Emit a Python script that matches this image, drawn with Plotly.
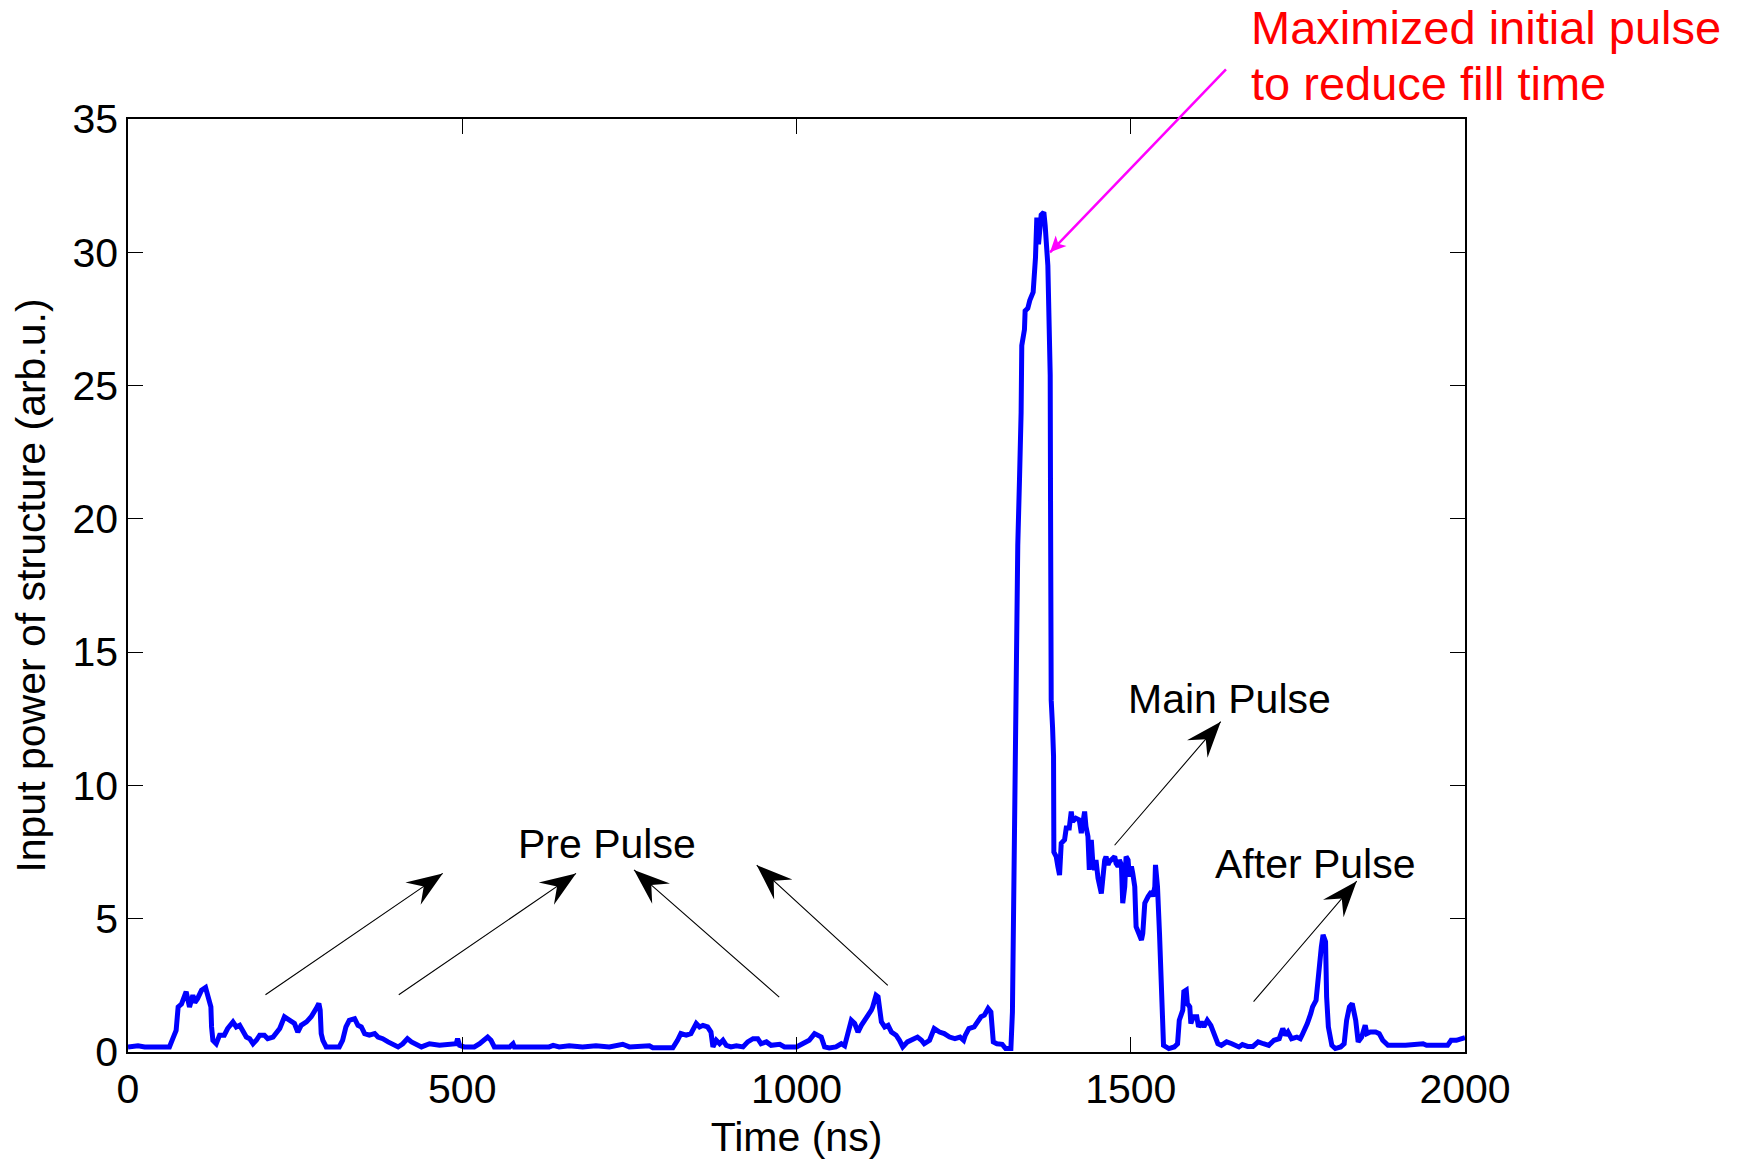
import plotly.graph_objects as go

# ---------------- data ----------------
time_ns = [
    0, 15, 25, 62, 67, 72, 75, 80, 87, 92, 97, 100, 104, 110, 116, 119, 124, 125, 127, 132,
    137, 144, 149, 157, 162, 167, 172, 177, 182, 187, 192, 197, 204, 209, 217, 222, 227, 234,
    242, 249, 254, 259, 267, 274, 281.5, 285.5, 287.5, 289, 291.5, 296.5, 316, 321, 326, 331,
    339, 344, 349, 354, 361, 369, 374, 381, 389, 396, 404, 411, 418, 424, 431, 439, 451, 466,
    491, 493, 496, 503, 518, 526, 538, 543, 548, 571, 576, 578, 630,
    636, 645, 660, 680, 700, 720, 740, 750, 780, 785, 815, 822, 827, 835, 842, 850, 855, 860,
    867, 872, 875, 880, 885, 890, 895, 902, 910, 920, 927, 935, 942, 947, 955, 962, 975, 982,
    1000, 1009, 1019, 1027, 1032, 1037, 1042, 1049, 1059, 1067, 1072, 1077, 1082, 1087, 1092,
    1097, 1104, 1112, 1114, 1119, 1122, 1124, 1127, 1132, 1137, 1142, 1149, 1154, 1159, 1166,
    1174, 1181, 1187, 1191, 1199, 1206, 1214, 1221, 1229, 1237, 1244.6, 1250, 1252.5, 1257.8,
    1265.7, 1270.8, 1276, 1281, 1286.6, 1290.8, 1292.9, 1294.4, 1299.7, 1307.6, 1312.8, 1320.7,
    1323, 1325, 1327, 1329, 1331, 1333.6, 1334, 1336, 1337, 1341, 1342, 1346, 1349, 1354,
    1357.5, 1359.5, 1362, 1366, 1370, 1372, 1376, 1377.5, 1379.5, 1380, 1381, 1383, 1384.5,
    1385, 1388.5, 1391, 1393.5, 1396, 1401, 1403.5, 1408, 1411, 1413, 1418, 1423, 1426, 1428,
    1431, 1433, 1436, 1438, 1441, 1443, 1446, 1448, 1451, 1456, 1458, 1461, 1463, 1466, 1468,
    1473, 1476, 1478, 1481, 1483, 1486, 1488, 1491, 1493, 1496, 1498, 1501, 1503, 1506, 1508,
    1513, 1516, 1518, 1521, 1526, 1531, 1533, 1536, 1537, 1540, 1543, 1545.5, 1547, 1549, 1557,
    1565, 1570, 1572.6, 1577.8, 1579.4, 1583, 1584.7, 1588.3, 1589.9, 1593.6, 1598.8, 1601.4,
    1605.6, 1609.3, 1614.5, 1619.8, 1625, 1630.3, 1635.5, 1643.4, 1651.3, 1656.5, 1661.8, 1667,
    1674.9, 1682.8, 1690.6, 1698.5, 1706.4, 1714.3, 1722.1, 1727.4, 1731.6, 1735.2, 1740.5,
    1748.4, 1753.6, 1756.2, 1761.5, 1764.1, 1769.3, 1772, 1777.2, 1779.8, 1782.5, 1785.1,
    1787.7, 1791.4, 1793, 1795.6, 1800.8, 1806, 1814, 1819.2, 1822.9, 1827.1, 1831.3, 1833.3,
    1836.5, 1840.2, 1845.4, 1850.7, 1853.3, 1858.5, 1866.4, 1871.7, 1876.9, 1884.8, 1911,
    1937.2, 1942.5, 1974, 1979.2, 1987.1, 1997.6, 2000,
]
power = [
    0.19, 0.23, 0.19, 0.19, 0.5, 0.81, 1.69, 1.8, 2.26, 1.69, 2.13, 1.85, 2.0, 2.32, 2.42, 2.19, 1.69, 0.94, 0.44, 0.31,
    0.63, 0.63, 0.88, 1.13, 0.94, 1.0, 0.75, 0.56, 0.5, 0.31, 0.44, 0.63, 0.63, 0.5, 0.56, 0.75, 0.88, 1.32,
    1.17, 1.07, 0.75, 1.0, 1.13, 1.32, 1.63, 1.82, 1.57, 0.69, 0.44, 0.19, 0.19, 0.44, 0.94, 1.19,
    1.25, 1.0, 0.94, 0.69, 0.63, 0.69, 0.56, 0.5, 0.38, 0.31, 0.19, 0.31, 0.5, 0.38, 0.31, 0.19, 0.31, 0.25,
    0.31, 0.5, 0.25, 0.19, 0.19, 0.31, 0.56, 0.44, 0.19, 0.19, 0.31, 0.19, 0.19,
    0.25, 0.19, 0.23, 0.19, 0.23, 0.19, 0.29, 0.19, 0.23, 0.16, 0.16, 0.44, 0.69, 0.63, 0.69, 1.07, 0.94, 1.0,
    0.94, 0.75, 0.19, 0.44, 0.31, 0.44, 0.25, 0.19, 0.23, 0.19, 0.38, 0.5, 0.5, 0.31, 0.38, 0.25, 0.29, 0.19,
    0.19, 0.31, 0.44, 0.69, 0.63, 0.56, 0.19, 0.15, 0.19, 0.31, 0.23, 0.81, 1.19, 1.07, 0.75,
    1.0, 1.25, 1.57, 1.69, 2.13, 2.07, 1.69, 1.13, 0.94, 1.0, 0.75, 0.63, 0.44, 0.19, 0.38,
    0.5, 0.56, 0.44, 0.31, 0.44, 0.88, 0.75, 0.69, 0.56, 0.5, 0.56, 0.44, 0.63, 0.88,
    0.94, 1.13, 1.32, 1.38, 1.63, 1.5, 1.07, 0.38, 0.31, 0.29, 0.13, 0.13,
    1.5, 6.0, 12.0, 15.5, 19.0, 21.5, 22.9, 24.0, 26.5, 27.1, 27.8, 27.9, 28.2, 28.5,
    29.8, 31.3, 30.3, 31.4, 31.5, 31.0, 29.5, 27.4, 25.4, 20.7, 13.2, 12.2, 11.1,
    7.5, 7.33, 6.96, 6.64, 7.83, 7.96, 8.4, 8.4, 9.02, 8.65, 8.77, 8.71, 8.21, 8.58,
    9.02, 8.46, 8.08, 6.83, 7.96, 7.2, 6.83, 7.2, 6.52, 5.95, 6.58, 7.2, 7.33, 7.02, 7.14,
    7.27, 7.33, 7.08, 6.96, 7.2, 7.02, 5.58, 6.2, 7.33, 7.2, 6.58, 6.96, 6.7, 6.2, 4.7,
    4.45, 4.2, 4.45, 5.58, 5.83, 6.02, 5.83, 6.2, 7.02, 6.2, 4.45, 1.94, 0.56, 0.25, 0.13,
    0.19, 0.31, 1.19, 1.57, 2.26, 2.32, 1.82, 1.69, 1.07, 1.32, 1.32, 0.94,
    1.13, 0.94, 1.19, 1.0, 0.63, 0.31, 0.25, 0.38, 0.31, 0.25, 0.19, 0.28,
    0.21, 0.21, 0.38, 0.31, 0.25, 0.44, 0.5, 0.88, 0.63, 0.75, 0.5,
    0.56, 0.5, 0.63, 0.88, 1.07, 1.44, 1.69, 1.94, 2.69, 3.07, 3.95,
    4.39, 4.14, 2.07, 0.94, 0.25, 0.13, 0.19, 0.31, 1.19, 1.69, 1.82, 1.57,
    1.19, 0.38, 0.56, 1.0, 0.69, 0.75, 0.75, 0.69, 0.44, 0.25, 0.25,
    0.31, 0.25, 0.25, 0.44, 0.44, 0.54, 0.54,
]

x_ticks = [0, 500, 1000, 1500, 2000]
y_ticks = [0, 5, 10, 15, 20, 25, 30, 35]

# annotation texts and arrows: (label, text position) and (tail, tip) in data units
label_texts = ["Pre Pulse", "Main Pulse", "After Pulse"]
label_pos = [(716, 7.82), (1648, 13.24), (1777, 7.05)]
black_arrows = [  # (tail_t, tail_y, tip_t, tip_y)
    (203.4, 2.11, 470.8, 6.70),
    (402.8, 2.11, 670.2, 6.70),
    (976.4, 2.01, 756.9, 6.83),
    (1138.8, 2.45, 940.5, 7.01),
    (1473.9, 7.70, 1634.6, 12.39),
    (1681.8, 1.83, 1838.0, 6.41),
]
magenta_arrow = (1644.6, 36.92, 1379.2, 30.0)
red_lines = ["Maximized initial pulse", "to reduce fill time"]

# ---------------- layout geometry ----------------
W, H = 1742, 1165
ML, MR, MT, MB = 128, 277, 119, 113
PW, PH = W - ML - MR, H - MT - MB
X_RANGE = [0, 2000]
Y_RANGE = [0, 35]
SX = PW / (X_RANGE[1] - X_RANGE[0])
SY = PH / (Y_RANGE[1] - Y_RANGE[0])

FONT = "Arial, 'Liberation Sans', sans-serif"


def head_path(tail_t, tail_y, tip_t, tip_y, L, Wd, notch):
    # work in pixel space then back to data space
    tx, ty = tip_t * SX, -tip_y * SY
    bx, by = tail_t * SX, -tail_y * SY
    dx, dy = tx - bx, ty - by
    n = (dx * dx + dy * dy) ** 0.5
    ux, uy = dx / n, dy / n
    nx, ny = -uy, ux
    pts = [
        (tx, ty),
        (tx - L * ux + Wd / 2 * nx, ty - L * uy + Wd / 2 * ny),
        (tx - notch * ux, ty - notch * uy),
        (tx - L * ux - Wd / 2 * nx, ty - L * uy - Wd / 2 * ny),
    ]
    d = ["M" if i == 0 else "L" for i in range(len(pts))]
    s = " ".join(f"{c}{px / SX:.3f},{-py / SY:.4f}" for c, (px, py) in zip(d, pts))
    return s + " Z"


fig = go.Figure()
fig.add_trace(go.Scatter(
    x=time_ns, y=power, mode="lines",
    line=dict(color="#0000FF", width=5),
    hoverinfo="skip", showlegend=False,
))

annotations = []
shapes = []
for (t0, y0, t1, y1) in black_arrows:
    annotations.append(dict(
        x=t1, y=y1, ax=t0, ay=y0, xref="x", yref="y", axref="x", ayref="y",
        text="", showarrow=True, arrowhead=0, arrowwidth=1.1, arrowcolor="black",
    ))
    shapes.append(dict(type="path", xref="x", yref="y",
                       path=head_path(t0, y0, t1, y1, 36, 27, 23),
                       fillcolor="black", line=dict(width=0), layer="above"))

t0, y0, t1, y1 = magenta_arrow
annotations.append(dict(
    x=t1, y=y1, ax=t0, ay=y0, xref="x", yref="y", axref="x", ayref="y",
    text="", showarrow=True, arrowhead=0, arrowwidth=2.5, arrowcolor="#FF00FF",
))
shapes.append(dict(type="path", xref="x", yref="y",
                   path=head_path(t0, y0, t1, y1, 16, 15, 12),
                   fillcolor="#FF00FF", line=dict(width=0), layer="above"))

for txt, (tx, ty) in zip(label_texts, label_pos):
    annotations.append(dict(
        x=tx, y=ty, xref="x", yref="y", text=txt, showarrow=False,
        xanchor="center", yanchor="middle",
        font=dict(family=FONT, size=41, color="black"),
    ))

red_y = [1.0986, 1.0378]
for txt, yy in zip(red_lines, red_y):
    annotations.append(dict(
        x=(1249 - ML) / PW, y=yy, xref="paper", yref="paper", text=txt,
        showarrow=False, xanchor="left", yanchor="middle",
        font=dict(family=FONT, size=47, color="#FF0000"),
    ))

axis_common = dict(
    showgrid=False, zeroline=False, showline=True, linecolor="black", linewidth=1.5,
    mirror="ticks", ticks="inside", ticklen=15, tickwidth=1.2, tickcolor="black",
    tickfont=dict(family=FONT, size=41, color="black"),
)

fig.update_layout(
    width=W, height=H, autosize=False,
    margin=dict(l=ML, r=MR, t=MT, b=MB, pad=0),
    paper_bgcolor="white", plot_bgcolor="white",
    font=dict(family=FONT, color="black"),
    xaxis=dict(range=X_RANGE, tickvals=x_ticks, ticktext=[str(v) for v in x_ticks],
               title=dict(text="Time (ns)", font=dict(family=FONT, size=41), standoff=11),
               **axis_common),
    yaxis=dict(range=Y_RANGE, tickvals=y_ticks, ticktext=[str(v) for v in y_ticks],
               title=dict(text="Input power of structure (arb.u.)",
                          font=dict(family=FONT, size=41), standoff=14),
               **axis_common),
    annotations=annotations,
    shapes=shapes,
)

fig.write_html("out.html", config={"displayModeBar": False},
               post_script="document.body.style.margin='0';")
